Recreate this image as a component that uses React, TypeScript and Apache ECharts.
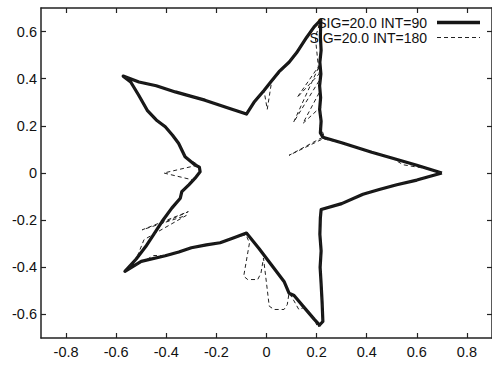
import React, { useEffect, useRef } from "react";
import * as echarts from "echarts";

const xTicks = [-0.8, -0.6, -0.4, -0.2, 0, 0.2, 0.4, 0.6, 0.8];
const yTicks = [-0.6, -0.4, -0.2, 0, 0.2, 0.4, 0.6];
const seriesNames = ["SIG=20.0 INT=90", "SIG=20.0 INT=180"];

const int90: number[][] = [
  [0.70, 0.00], [0.60, 0.033], [0.50, 0.064], [0.42, 0.088], [0.36, 0.108], [0.30, 0.128],
  [0.225, 0.152], [0.215, 0.17], [0.218, 0.22], [0.212, 0.27], [0.216, 0.32], [0.212, 0.37],
  [0.217, 0.42], [0.213, 0.47], [0.218, 0.52], [0.215, 0.58], [0.217, 0.65],
  [0.19, 0.62], [0.16, 0.575], [0.12, 0.51], [0.09, 0.47], [0.05, 0.43], [0.02, 0.39],
  [-0.01, 0.35], [-0.05, 0.30], [-0.08, 0.25],
  [-0.15, 0.275], [-0.246, 0.309], [-0.30, 0.325], [-0.364, 0.344], [-0.44, 0.37], [-0.509, 0.386], [-0.572, 0.411],
  [-0.542, 0.386], [-0.51, 0.33], [-0.476, 0.266], [-0.44, 0.225], [-0.404, 0.196], [-0.375, 0.16],
  [-0.351, 0.126], [-0.325, 0.069], [-0.285, 0.034], [-0.268, 0.025], [-0.265, 0.005],
  [-0.285, -0.022], [-0.31, -0.05], [-0.338, -0.079], [-0.344, -0.107], [-0.378, -0.149],
  [-0.417, -0.206], [-0.45, -0.26], [-0.482, -0.312], [-0.52, -0.365], [-0.565, -0.417],
  [-0.50, -0.375], [-0.404, -0.351], [-0.35, -0.335], [-0.30, -0.317], [-0.24, -0.305],
  [-0.185, -0.296], [-0.13, -0.275], [-0.08, -0.255],
  [-0.03, -0.32], [0.02, -0.39], [0.07, -0.46], [0.09, -0.51], [0.11, -0.52],
  [0.15, -0.57], [0.19, -0.62], [0.212, -0.645],
  [0.225, -0.63], [0.222, -0.55], [0.218, -0.47], [0.214, -0.40], [0.218, -0.33],
  [0.213, -0.26], [0.215, -0.19], [0.218, -0.155],
  [0.30, -0.13], [0.385, -0.09], [0.45, -0.07], [0.52, -0.05], [0.60, -0.03], [0.70, 0.00],
];

const int180: number[][] = [
  [0.70, 0.00], [0.63, 0.02], [0.545, 0.035], [0.50, 0.064], [0.42, 0.088], [0.36, 0.108], [0.30, 0.128],
  [0.225, 0.145], [0.09, 0.075], [0.23, 0.155], [0.215, 0.20], [0.216, 0.28], [0.145, 0.21],
  [0.215, 0.35], [0.215, 0.40], [0.108, 0.215], [0.213, 0.46], [0.122, 0.32], [0.21, 0.42],
  [0.195, 0.575], [0.217, 0.65],
  [0.16, 0.575], [0.09, 0.47], [0.02, 0.385], [0.003, 0.27], [-0.01, 0.35], [-0.05, 0.30], [-0.08, 0.25],
  [-0.15, 0.275], [-0.246, 0.309], [-0.30, 0.325], [-0.364, 0.344], [-0.44, 0.37], [-0.509, 0.386], [-0.572, 0.411],
  [-0.542, 0.386], [-0.51, 0.33], [-0.476, 0.266], [-0.44, 0.225], [-0.404, 0.196], [-0.375, 0.16],
  [-0.351, 0.126], [-0.325, 0.069], [-0.272, 0.034], [-0.41, 0.0], [-0.292, -0.03],
  [-0.31, -0.05], [-0.338, -0.079], [-0.344, -0.107], [-0.378, -0.149], [-0.42, -0.215], [-0.312, -0.164],
  [-0.496, -0.241], [-0.32, -0.18], [-0.489, -0.283], [-0.52, -0.365], [-0.565, -0.417],
  [-0.45, -0.35], [-0.404, -0.351], [-0.35, -0.335], [-0.30, -0.317], [-0.24, -0.305],
  [-0.185, -0.296], [-0.13, -0.275], [-0.082, -0.262],
  [-0.068, -0.297], [-0.091, -0.438], [-0.075, -0.452], [-0.035, -0.452], [-0.022, -0.424],
  [-0.012, -0.361], [0.011, -0.565], [0.03, -0.579], [0.07, -0.579], [0.083, -0.558],
  [0.09, -0.509], [0.103, -0.53], [0.129, -0.579], [0.15, -0.57], [0.19, -0.62], [0.205, -0.655],
  [0.225, -0.63], [0.222, -0.55], [0.218, -0.47], [0.214, -0.40], [0.218, -0.33],
  [0.213, -0.26], [0.215, -0.19], [0.218, -0.155],
  [0.30, -0.13], [0.385, -0.09], [0.45, -0.07], [0.52, -0.05], [0.60, -0.03], [0.70, 0.00],
];

const FONT = "Liberation Sans, Arial, Helvetica, sans-serif";
const fmt = (v: number) => {
  const r = Math.round(v * 10) / 10;
  return r === 0 ? "0" : String(r);
};

export default function App() {
  const ref = useRef<HTMLDivElement>(null);
  useEffect(() => {
    if (!ref.current) return;
    const chart = echarts.init(ref.current, null, { renderer: "svg" });
    const axisLine = { show: true, onZero: false, lineStyle: { color: "#222", width: 1.5 } };
    const tickStyle = { lineStyle: { color: "#222", width: 1.2 } };
    chart.setOption({
      animation: false,
      backgroundColor: "#fff",
      grid: { left: 41, top: 8, width: 456, height: 330 },
      xAxis: [
        {
          type: "value", min: -0.9, max: 0.9, position: "bottom",
          axisLine, splitLine: { show: false },
          axisTick: { show: true, inside: true, length: 5, customValues: xTicks, ...tickStyle },
          axisLabel: { customValues: xTicks, formatter: fmt, fontSize: 14.5, color: "#111", fontFamily: FONT, margin: 6 },
        },
        {
          type: "value", min: -0.9, max: 0.9, position: "top",
          axisLine, splitLine: { show: false },
          axisTick: { show: true, inside: true, length: 5, customValues: xTicks, ...tickStyle },
          axisLabel: { show: false },
        },
      ],
      yAxis: [
        {
          type: "value", min: -0.7, max: 0.7, position: "left",
          axisLine, splitLine: { show: false },
          axisTick: { show: true, inside: true, length: 5, customValues: yTicks, ...tickStyle },
          axisLabel: { customValues: yTicks, formatter: fmt, fontSize: 14.5, color: "#111", fontFamily: FONT, margin: 4 },
        },
        {
          type: "value", min: -0.7, max: 0.7, position: "right",
          axisLine, splitLine: { show: false },
          axisTick: { show: true, inside: true, length: 5, customValues: yTicks, ...tickStyle },
          axisLabel: { show: false },
        },
      ],
      series: [
        {
          name: seriesNames[0], type: "line", data: int90, showSymbol: false, symbol: "none",
          xAxisIndex: 0, yAxisIndex: 0,
          lineStyle: { color: "#161616", width: 3.2, join: "round" }, z: 2,
        },
        {
          name: seriesNames[1], type: "line", data: int180, showSymbol: false, symbol: "none",
          xAxisIndex: 0, yAxisIndex: 0,
          lineStyle: { color: "#222", width: 1, type: [4, 3] }, z: 3,
        },
      ],
      graphic: [
        { type: "text", x: 427, y: 22.5, z: 10, style: { text: seriesNames[0], align: "right", verticalAlign: "middle", font: `14px ${FONT}`, fill: "#111" } },
        { type: "line", z: 10, shape: { x1: 437, y1: 22.5, x2: 480, y2: 22.5 }, style: { stroke: "#161616", lineWidth: 3.5 } },
        { type: "text", x: 427, y: 37.5, z: 10, style: { text: seriesNames[1], align: "right", verticalAlign: "middle", font: `14px ${FONT}`, fill: "#111" } },
        { type: "line", z: 10, shape: { x1: 437, y1: 37.5, x2: 480, y2: 37.5 }, style: { stroke: "#222", lineWidth: 1, lineDash: [4, 3] } },
      ],
    });
    return () => chart.dispose();
  }, []);
  return <div ref={ref} style={{ position: "fixed", left: 0, top: 0, width: 492, height: 365 }} />;
}
